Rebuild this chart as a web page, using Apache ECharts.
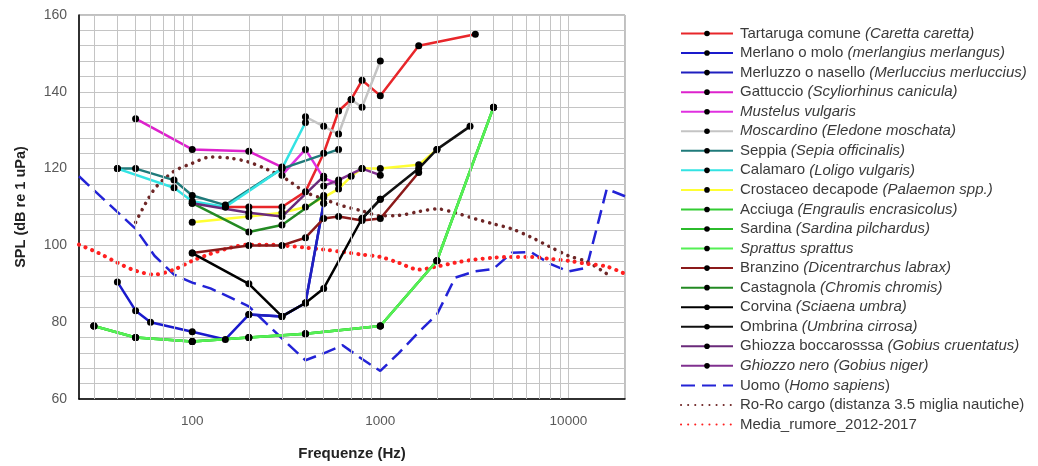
<!DOCTYPE html>
<html>
<head>
<meta charset="utf-8">
<script src="https://cdn.jsdelivr.net/npm/echarts@6/dist/echarts.min.js"></script>
<style>
  html, body { margin: 0; padding: 0; background: #fff; }
  #chart { width: 1038px; height: 466px; }
</style>
</head>
<body>
<div id="chart"></div>
<script>
// frequenze (Hz) e soglie (dB re 1 uPa)
const tartarugaF = [150, 200, 300, 400, 500, 600, 700, 800, 1000, 1600, 3200]
const tartarugaV = [110, 110, 110, 114, 124, 135, 138, 143, 139, 152, 155]
const merlanoF = [40, 50, 60, 100, 150, 200, 300, 400, 500]
const merlanoV = [90.5, 83, 80, 77.5, 75.5, 82, 81.5, 85, 111]
const merluzzoF = [200, 300, 400, 500]
const merluzzoV = [82, 81.5, 85, 111]
const gattuccioF = [50, 100, 200, 300]
const gattuccioV = [133, 125, 124.5, 120.4]
const mustelusF = [300, 400, 500, 600]
const mustelusV = [118.3, 125, 117.5, 116]
const moscardinoF = [400, 500, 600, 700, 800, 1000]
const moscardinoV = [133.5, 131, 129, 138, 136, 148]
const seppiaF = [40, 50, 80, 100, 150, 300, 600]
const seppiaV = [120, 120, 117, 113, 110.5, 120, 125]
const calamaroF = [40, 80, 100, 150, 300, 400]
const calamaroV = [120, 115, 111.5, 110, 120, 132]
const crostaceoF = [100, 200, 300, 400, 500, 600, 700, 800, 1000, 1600, 2000]
const crostaceoV = [106, 107.5, 108.5, 110, 112.5, 114.7, 118, 120, 120, 121, 125]
const acciugaF = [30, 50, 100, 200, 400, 1000, 2000, 4000]
const acciugaV = [79, 76, 75, 76, 77, 79, 96, 136]
const sardinaF = [30, 50, 100, 200, 400, 1000, 2000, 4000]
const sardinaV = [79, 76, 75, 76, 77, 79, 96, 136]
const sprattusF = [30, 50, 100, 200, 400, 1000, 2000, 4000]
const sprattusV = [79, 76, 75, 76, 77, 79, 96, 136]
const branzinoF = [100, 200, 300, 400, 500, 600, 800, 1000, 1600]
const branzinoV = [98, 100, 100, 102, 107, 107.5, 106.5, 107, 119]
const castagnolaF = [100, 200, 300, 500]
const castagnolaV = [111, 103.5, 105.3, 113]
const corvinaF = [100, 200, 300, 400, 500, 800, 1000]
const corvinaV = [98, 90, 81.5, 85, 88.8, 107, 112]
const ombrinaF = [800, 1000, 1600, 2000, 3000]
const ombrinaV = [107, 112, 120, 125, 131]
const ghiozzaF = [100, 200, 300, 500]
const ghiozzaV = [111, 108.5, 107.5, 118]
const ghiozzoNeroF = [500, 600, 800, 1000]
const ghiozzoNeroV = [115.5, 117, 120, 118.3]

const uomoF = [25, 50, 63, 80, 100, 125, 160, 200, 250, 315, 400, 500, 630, 800, 1000, 1250, 1600, 2000, 2500, 3150, 4000, 5000, 6300, 8000, 10000, 12500, 16000, 20000]
const uomoV = [118, 104.3, 97.3, 92.4, 90.3, 88.8, 86.4, 84.1, 79.5, 74.8, 70.1, 71.9, 74, 70.4, 67.3, 71.9, 77.4, 82, 91.6, 93.2, 93.9, 98.1, 98.3, 95.2, 93.2, 94.2, 114.7, 112.8]
const roroF = [50, 63, 80, 100, 125, 160, 200, 250, 315, 400, 500, 630, 800, 1000, 1250, 1600, 2000, 2500, 3150, 4000, 5000, 6300, 8000, 10000, 12500, 16000]
const roroV = [106, 114.7, 119.3, 121.4, 123, 122.7, 121.7, 119.8, 117.3, 113.9, 112.1, 110.3, 109, 107.7, 107.8, 108.8, 109.5, 108.5, 107, 105.6, 104.3, 102.2, 99.6, 97.3, 95.8, 92.6]
const mediaF = [25, 31.5, 40, 50, 63, 80, 100, 125, 160, 200, 250, 315, 400, 500, 630, 800, 1000, 1250, 1600, 2000, 2500, 3150, 4000, 5000, 6300, 8000, 10000, 12500, 16000, 20000]
const mediaV = [100.2, 98.1, 95.5, 93.4, 92.4, 93.7, 96, 97.8, 99.4, 100.2, 100.2, 99.9, 99.4, 98.9, 98.3, 97.6, 97, 95.5, 93.7, 94.5, 95.5, 96.3, 96.8, 97, 97, 96.5, 96, 95.2, 94.5, 92.6]

// linee secondarie della griglia (scala log)
const minorFreqs = [30, 40, 50, 60, 70, 80, 90, 200, 300, 400, 500, 600, 700, 800, 900,
  2000, 3000, 4000, 5000, 6000, 7000, 8000, 9000]

// etichette legenda: [normale, corsivo, coda]
const LABELS = [
  ['Tartaruga comune ', '(Caretta caretta)', ''],
  ['Merlano o molo ', '(merlangius merlangus)', ''],
  ['Merluzzo o nasello ', '(Merluccius merluccius)', ''],
  ['Gattuccio ', '(Scyliorhinus canicula)', ''],
  ['', 'Mustelus vulgaris', ''],
  ['', 'Moscardino (Eledone moschata)', ''],
  ['Seppia ', '(Sepia officinalis)', ''],
  ['Calamaro ', '(Loligo vulgaris)', ''],
  ['Crostaceo decapode ', '(Palaemon spp.)', ''],
  ['Acciuga ', '(Engraulis encrasicolus)', ''],
  ['Sardina ', '(Sardina pilchardus)', ''],
  ['', 'Sprattus sprattus', ''],
  ['Branzino ', '(Dicentrarchus labrax)', ''],
  ['Castagnola ', '(Chromis chromis)', ''],
  ['Corvina ', '(Sciaena umbra)', ''],
  ['Ombrina ', '(Umbrina cirrosa)', ''],
  ['Ghiozza boccarosssa ', '(Gobius cruentatus)', ''],
  ['', 'Ghiozzo nero (Gobius niger)', ''],
  ['Uomo (', 'Homo sapiens', ')'],
  ['Ro-Ro cargo (distanza 3.5 miglia nautiche)', '', ''],
  ['Media_rumore_2012-2017', '', ''],
]
const NAMES = LABELS.map(l => l.join(''))

const COLORS = ['#e8262a', '#1a1acc', '#1f1fbf', '#dd22cc', '#e030e0', '#c4c4c4', '#1f7a7a', '#33e3e3',
  '#ffff33', '#33cc33', '#2bbb2b', '#55f055', '#8b1a1a', '#238a23', '#000000', '#111111', '#6a2a7a', '#80308f']

const pairs = (F, V) => F.map((f, i) => [f, V[i]])

function solid(idx, F, V) {
  return {
    name: NAMES[idx], type: 'line', data: pairs(F, V),
    symbol: 'circle', symbolSize: 7,
    itemStyle: { color: '#000' },
    lineStyle: { color: COLORS[idx], width: 2.5 },
    emphasis: { disabled: true }, z: 3,
  }
}

// serie senza marcatori: simbolo trasparente anche in legenda
function plain(idx, F, V, lineStyle, extra) {
  return Object.assign({
    name: NAMES[idx], type: 'line', data: pairs(F, V),
    symbol: 'circle', showSymbol: false,
    itemStyle: { color: 'rgba(0,0,0,0)' },
    lineStyle, emphasis: { disabled: true }, z: 2,
  }, extra || {})
}

const series = [
  {
    name: 'grid', type: 'line', data: [[25, 60]], symbol: 'none', silent: true,
    lineStyle: { opacity: 0 }, z: 1,
    markLine: {
      silent: true, symbol: 'none', label: { show: false },
      lineStyle: { color: '#c4c4c4', type: 'solid', width: 1 },
      data: minorFreqs.map(f => ({ xAxis: f })),
    },
  },
  solid(0, tartarugaF, tartarugaV),
  solid(1, merlanoF, merlanoV),
  solid(2, merluzzoF, merluzzoV),
  solid(3, gattuccioF, gattuccioV),
  solid(4, mustelusF, mustelusV),
  solid(5, moscardinoF, moscardinoV),
  solid(6, seppiaF, seppiaV),
  solid(7, calamaroF, calamaroV),
  solid(8, crostaceoF, crostaceoV),
  solid(9, acciugaF, acciugaV),
  solid(10, sardinaF, sardinaV),
  solid(11, sprattusF, sprattusV),
  solid(12, branzinoF, branzinoV),
  solid(13, castagnolaF, castagnolaV),
  solid(14, corvinaF, corvinaV),
  solid(15, ombrinaF, ombrinaV),
  solid(16, ghiozzaF, ghiozzaV),
  solid(17, ghiozzoNeroF, ghiozzoNeroV),
  plain(18, uomoF, uomoV, { color: '#2323d6', width: 2.5, type: [14, 7] }),
  plain(19, roroF, roroV, { color: '#6e2626', width: 3.5, type: [0.1, 7], cap: 'round' }, { smooth: 0.3 }),
  plain(20, mediaF, mediaV, { color: '#ff2020', width: 4, type: [0.1, 7], cap: 'round' }, { smooth: 0.3 }),
]

const FONT = '"Liberation Sans", Arial, sans-serif'
const chart = echarts.init(document.getElementById('chart'))
chart.setOption({
  animation: false,
  backgroundColor: '#fff',
  textStyle: { fontFamily: FONT },
  grid: { left: 79, right: 413, top: 15, bottom: 65, show: true, borderColor: '#808080', borderWidth: 1 },
  legend: {
    data: NAMES, orient: 'vertical', left: 675, top: 21,
    itemWidth: 52, itemHeight: 7, itemGap: 4.55,
    formatter(name) {
      const l = LABELS[NAMES.indexOf(name)]
      let s = ''
      if (l[0]) s += `{n|${l[0]}}`
      if (l[1]) s += `{i|${l[1]}}`
      if (l[2]) s += `{n|${l[2]}}`
      return s
    },
    textStyle: {
      padding: [0, 0, 0, 2],
      rich: {
        n: { fontFamily: FONT, fontSize: 15, lineHeight: 16, color: '#3a3a3a' },
        i: { fontFamily: FONT, fontSize: 15, lineHeight: 16, color: '#3a3a3a', fontStyle: 'italic' },
      },
    },
  },
  xAxis: {
    type: 'log', logBase: 10, min: 25, max: 20000,
    name: 'Frequenze (Hz)', nameLocation: 'middle', nameGap: 47,
    nameTextStyle: { fontWeight: 'bold', fontSize: 15, color: '#222' },
    axisLine: { lineStyle: { color: '#000', width: 1.5 } },
    axisTick: { show: false },
    axisLabel: {
      color: '#595959', fontSize: 13.5, margin: 15, showMinLabel: false, showMaxLabel: false,
      formatter: v => String(Math.round(v)),
    },
    splitLine: { show: true, lineStyle: { color: '#c4c4c4' } },
  },
  yAxis: {
    type: 'value', min: 60, max: 160, interval: 20,
    name: 'SPL (dB re 1 uPa)', nameLocation: 'middle', nameGap: 51,
    nameTextStyle: { fontWeight: 'bold', fontSize: 14.5, color: '#222' },
    axisLine: { show: true, lineStyle: { color: '#000', width: 1.5 } },
    axisTick: { show: false },
    axisLabel: { color: '#595959', fontSize: 14, margin: 12 },
    splitLine: { show: true, lineStyle: { color: '#c4c4c4' } },
    minorTick: { show: false, splitNumber: 5 },
    minorSplitLine: { show: true, lineStyle: { color: '#c4c4c4' } },
  },
  series,
})
</script>
</body>
</html>
